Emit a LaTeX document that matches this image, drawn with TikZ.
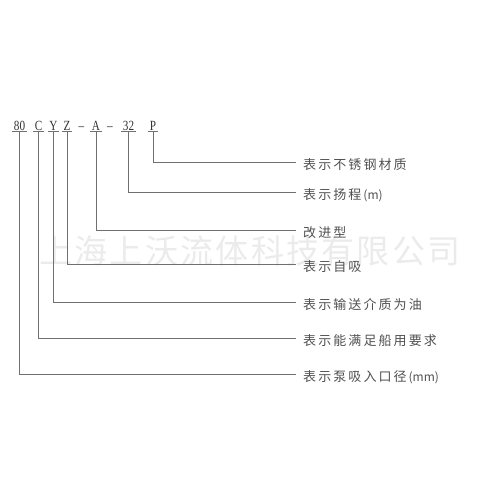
\documentclass[tikz,border=0pt]{standalone}
\usepackage{fontspec}
\setmainfont{Liberation Serif}
\newfontfamily\codefont[FakeStretch=0.8]{Liberation Serif}
\newfontfamily\cjk[LetterSpace=16]{Noto Sans CJK SC}
\newfontfamily\cjkn{Noto Sans CJK SC}
\newfontfamily\cjkwm[LetterSpace=7]{Noto Sans CJK SC}
\usepackage{tikz}

\definecolor{linegray}{HTML}{707070}
\definecolor{textgray}{HTML}{505050}
\definecolor{wmgray}{HTML}{EBEBEB}

\newcommand{\unit}[1]{{\cjkn\fontsize{12}{12}\selectfont\,(#1)}}

\begin{document}
\begin{tikzpicture}[
  x=1pt, y=-1pt,
  code/.style={inner xsep=1.5pt, inner ysep=1.5pt, font=\codefont\fontsize{14}{14}\selectfont, text=black!80},
  lbl/.style={anchor=west, inner xsep=7pt, inner ysep=0pt, font=\cjk\fontsize{13}{13}\selectfont, text=textgray},
  lead/.style={draw=linegray, line width=0.8pt},
  uline/.style={draw=linegray, line width=0.7pt}
]
\useasboundingbox (0,0) rectangle (500,500);

% --- Watermark ---
\node[anchor=west, text=wmgray, font=\cjkwm\fontsize{33}{33}\selectfont, inner sep=0pt] (wm) at (39,251) {上海上沃流体科技有限公司};

% --- Model code (top row) ---
\node[code, anchor=base] (c80) at (19.5,130) {80};
\node[code, anchor=base] (cC)  at (38.5,130) {C};
\node[code, anchor=base] (cY)  at (53.5,130) {Y};
\node[code, anchor=base] (cZ)  at (67,130)   {Z};
\node[code, anchor=base] (d1)  at (81.5,130) {–};
\node[code, anchor=base] (cA)  at (96,130)   {A};
\node[code, anchor=base] (d2)  at (110,130)  {–};
\node[code, anchor=base] (c32) at (128.5,130) {32};
\node[code, anchor=base] (cP)  at (153,130)  {P};

% --- Underlines ---
\foreach \n in {c80,cC,cY,cZ,cA,c32,cP}
  \draw[uline] (\n.south west) -- (\n.south east);

% --- Explanations ---
\node[lbl] (lP)  at (296,165) {表示不锈钢材质};
\node[lbl] (l32) at (296,195) {表示扬程\unit{m}};
\node[lbl] (lA)  at (296,233) {改进型};
\node[lbl] (lZ)  at (296,267) {表示自吸};
\node[lbl] (lY)  at (296,305) {表示输送介质为油};
\node[lbl] (lC)  at (296,341) {表示能满足船用要求};
\node[lbl] (l80) at (296,377) {表示泵吸入口径\unit{mm}};

% --- Leader lines ---
\draw[lead] (cP.south)  |- ([yshift=3pt]lP.west);
\draw[lead] (c32.south) |- ([yshift=3pt]l32.west);
\draw[lead] (cA.south)  |- ([yshift=3pt]lA.west);
\draw[lead] (cZ.south)  |- ([yshift=3pt]lZ.west);
\draw[lead] (cY.south)  |- ([yshift=3pt]lY.west);
\draw[lead] (cC.south)  |- ([yshift=3pt]lC.west);
\draw[lead] (c80.south) |- ([yshift=3pt]l80.west);

\end{tikzpicture}
\end{document}
